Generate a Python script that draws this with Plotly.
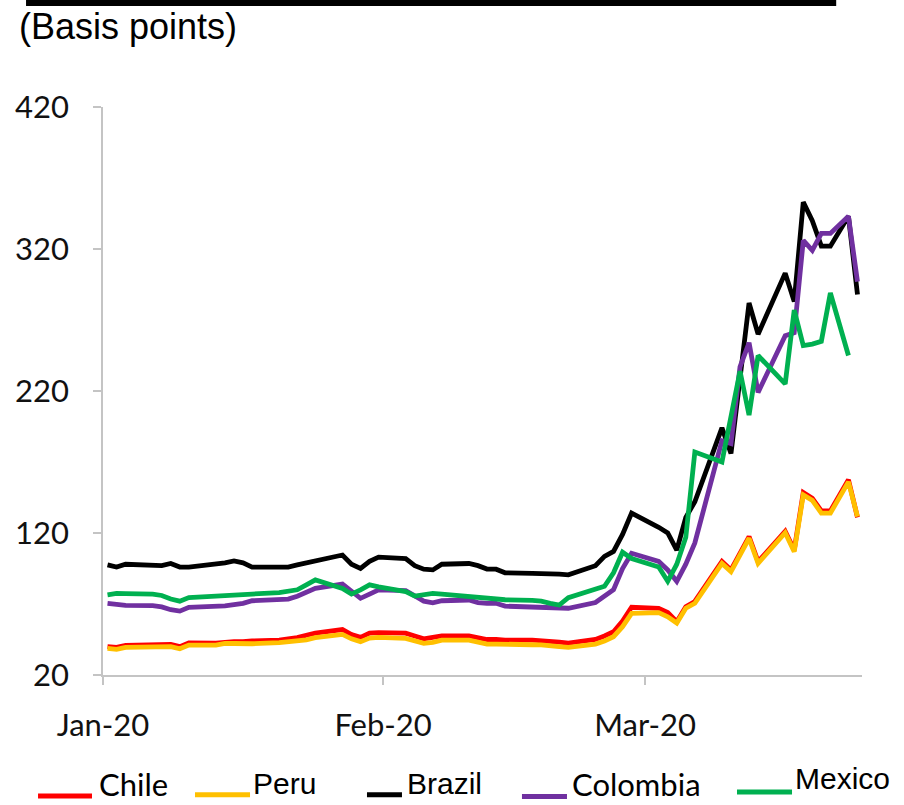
import plotly.graph_objects as go

# Trading days, Jan-Mar 2020
dates = (
    ["2020-01-%02d" % d for d in [1, 2, 3, 6, 7, 8, 9, 10, 13, 14, 15, 16, 17, 20, 21, 22, 23, 24, 27, 28, 29, 30, 31]]
    + ["2020-02-%02d" % d for d in [3, 4, 5, 6, 7, 10, 11, 12, 13, 14, 17, 18, 19, 20, 21, 24, 25, 26, 27, 28]]
    + ["2020-03-%02d" % d for d in [2, 3, 4, 5, 6, 9, 10, 11, 12, 13, 16, 17, 18, 19, 20, 21, 23, 24]]
)

# Spreads, basis points
chile = [
    40, 39.5, 40.8, 41.3, 41.9, 41.5, 40, 42.6, 42.5, 43.3, 43.5, 43.5, 44, 44.5, 45.2, 46.3, 48, 49.5, 52, 48.5, 46.5, 49.5, 49.8,
    49.5, 47.5, 45.5, 46.5, 47.5, 47.5, 46.5, 45, 45, 44.6, 44.5, 44.3, 44, 43.2, 42.5, 45, 47.5, 50.5, 58, 67.7,
    67, 64, 57.5, 68, 71.8, 100, 94, 105.5, 117.5, 99.8, 121.2, 108, 148.5, 144.5, 135.5, 135.5, 157.5, 131,
]
peru = [
    38.8, 38.1, 39.5, 39.8, 40.4, 40, 38.5, 41.1, 41, 42.2, 42.2, 42, 42, 42.8, 43.3, 43.8, 44.8, 46.3, 48.6, 45.5, 43.5, 46, 46.5,
    45.8, 44, 42.3, 43, 44.6, 44.6, 43.5, 41.8, 41.8, 41.5, 41.3, 41.2, 41, 40, 39.5, 41.8, 44, 47, 54, 63.4,
    63.9, 61, 56.6, 67, 70.5, 98.6, 92.8, 104, 116.3, 98.6, 120.2, 106.8, 146.8, 143, 134, 134, 156, 131.5,
]
brazil = [
    97.5, 96, 98, 97.5, 97, 98.5, 96, 96, 98, 99, 100.3, 99, 96, 96, 96, 97.5, 99, 100.5, 104.5, 98, 95, 100, 103,
    102, 97, 94.5, 94, 98, 98.5, 97, 94.6, 94.5, 92, 91.5, 91.5, 91.5, 91, 90.5, 97, 103.5, 107, 119, 134,
    124, 120, 108, 131, 142, 194, 176, 229, 282, 260, 303, 283, 353, 340, 322, 322, 343, 288,
]
colombia = [
    70.5, 69.5, 69, 68.8, 68, 66, 65, 67.7, 68.3, 68.7, 69.6, 70.5, 72.3, 72.8, 73.5, 75.5, 78, 81, 84, 79, 74, 77, 80,
    79.5, 76, 72, 70.8, 72.3, 72.8, 71, 70.5, 70.5, 68.5, 68, 67.8, 67.7, 67.2, 67, 71, 76, 80, 95, 105.7,
    100, 94, 86, 98, 113, 185, 183, 237, 254, 219, 259, 261, 326, 319, 331, 331, 343, 297,
]
mexico = [
    76.5, 77.5, 77.3, 77, 76, 73.5, 72, 74.5, 75.5, 76, 76.5, 76.8, 77, 78, 79, 80, 83.5, 87, 81, 77, 80, 83.5, 82,
    78.7, 75.6, 76.5, 77.5, 77, 75.5, 74.8, 74, 73.5, 73, 72.5, 72, 70.5, 69.3, 74.5, 80, 82.5, 92, 106.5, 102,
    96, 86, 98, 117, 177, 170, 202, 234, 203, 245, 225, 277, 252, 253, 255, 289, 245, None,
]

series = [
    ("Chile", chile, "#FF0000"),
    ("Peru", peru, "#FFC000"),
    ("Brazil", brazil, "#000000"),
    ("Colombia", colombia, "#7030A0"),
    ("Mexico", mexico, "#00B050"),
]

fig = go.Figure()
for name, vals, color in series:
    fig.add_trace(go.Scatter(
        x=dates, y=vals, name=name, mode="lines",
        line=dict(color=color, width=4.8),
        xperiod=86400000, xperiodalignment="middle",
        showlegend=False,
    ))

axis_grey = "#C4C4C4"
tick_font = dict(family="Lato", size=31, color="#111111")

fig.update_xaxes(
    type="date", range=["2020-01-01", "2020-03-25"],
    tick0="2020-01-01", dtick="M1", tickformat="%b-%y",
    showline=True, linecolor=axis_grey, linewidth=1.5,
    ticks="outside", ticklen=8, tickcolor=axis_grey, tickwidth=1.5,
    ticklabelstandoff=14,
    showgrid=False, zeroline=False, tickfont=tick_font,
)
fig.update_yaxes(
    range=[20, 420], tick0=20, dtick=100,
    showline=True, linecolor=axis_grey, linewidth=1.5,
    ticks="outside", ticklen=8, tickcolor=axis_grey, tickwidth=1.5,
    ticklabelstandoff=18,
    showgrid=False, zeroline=False, tickfont=tick_font,
)

# Legend keys along the bottom: (x0, x1, y of key, x of text, y of text bottom, font, size)
legend_layout = [
    (-0.0856, -0.0145, -0.213, -0.0079, -0.2289, "Lato", 31),
    (0.1212, 0.1937, -0.211, 0.1950, -0.2236, "Liberation Sans", 30),
    (0.3478, 0.3939, -0.211, 0.3979, -0.2236, "Liberation Sans", 30),
    (0.5520, 0.6113, -0.214, 0.6153, -0.2289, "Lato", 31),
    (0.8353, 0.9078, -0.206, 0.9090, -0.2148, "Liberation Sans", 30),
]
shapes = []
annotations = []
for (name, _, color), (x0, x1, ky, tx, ty, fam, fs) in zip(series, legend_layout):
    shapes.append(dict(type="line", xref="paper", yref="paper", x0=x0, x1=x1, y0=ky, y1=ky,
                       line=dict(color=color, width=5)))
    annotations.append(dict(text=name, xref="paper", yref="paper", x=tx, y=ty,
                            xanchor="left", yanchor="bottom", showarrow=False,
                            font=dict(family=fam, size=fs, color="#000000")))

# Heading rule and unit label
shapes.append(dict(type="rect", xref="paper", yref="paper", x0=-0.1014, x1=0.9660, y0=1.1778, y1=1.1884,
                   fillcolor="#000000", line=dict(width=0)))
annotations.append(dict(text="(Basis points)", xref="paper", yref="paper", x=-0.1133, y=1.141,
                        xanchor="left", yanchor="middle", showarrow=False,
                        font=dict(family="Liberation Sans", size=36, color="#000000")))

fig.update_layout(
    width=904, height=805,
    margin=dict(l=103, r=42, t=107, b=130),
    plot_bgcolor="white", paper_bgcolor="white",
    shapes=shapes, annotations=annotations,
    showlegend=False,
)

fig.write_html("out.html")
